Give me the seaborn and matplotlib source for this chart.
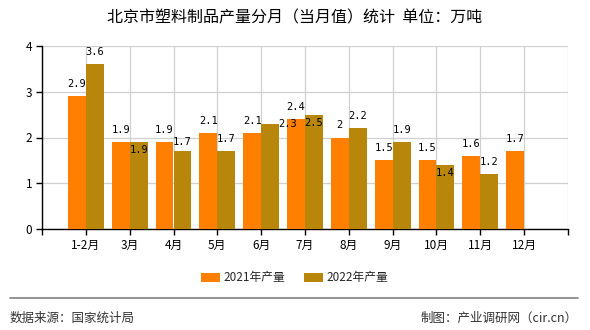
import matplotlib
matplotlib.use("Agg")
import matplotlib.pyplot as plt
import seaborn as sns
import pandas as pd
import numpy as np

# ---- data ----
categories = ["1-2月", "3月", "4月", "5月", "6月", "7月", "8月", "9月", "10月", "11月", "12月"]
series_names = ["2021年产量", "2022年产量"]
values_2021 = [2.9, 1.9, 1.9, 2.1, 2.1, 2.4, 2.0, 1.5, 1.5, 1.6, 1.7]
values_2022 = [3.6, 1.9, 1.7, 1.7, 2.3, 2.5, 2.2, 1.9, 1.4, 1.2, np.nan]
label_2021 = ["2.9", "1.9", "1.9", "2.1", "2.1", "2.4", "2", "1.5", "1.5", "1.6", "1.7"]
label_2022 = ["3.6", "1.9", "1.7", "1.7", "2.3", "2.5", "2.2", "1.9", "1.4", "1.2", ""]
y_ticks = [0, 1, 2, 3, 4]

# label placement (pixel offsets, styling only)
offs_2021 = [(0, 12)] * 11
offs_2022 = [(0, 12), (0, -8), (0, 9), (0, 12), (17, 0), (0, -8),
             (0, 12), (0, 12), (0, -8), (0, 12), (0, 12)]

colors = ["#FF8000", "#B8860B"]

df = pd.DataFrame({
    "month": categories * 2,
    "series": [series_names[0]] * len(categories) + [series_names[1]] * len(categories),
    "value": values_2021 + values_2022,
})

sns.set_theme(style="white")
plt.rcParams["font.family"] = ["Noto Sans CJK SC", "DejaVu Sans"]

fig = plt.figure(figsize=(5.9, 3.3), dpi=100)
ax = fig.add_axes([42 / 590, 1 - 229 / 330, (568 - 42) / 590, (229 - 46) / 330])

sns.barplot(data=df, x="month", y="value", hue="series", order=categories,
            hue_order=series_names, palette=colors, width=0.82, saturation=1,
            linewidth=0, edgecolor="none", ax=ax, legend=True, zorder=3)

ax.set_xlim(-1, 11)
ax.set_ylim(0, 4)
ax.set_xticks(range(-1, 12))
ax.set_xticklabels([""] + categories + [""], fontsize=8.5)
ax.set_yticks(y_ticks)
ax.set_yticklabels([str(t) for t in y_ticks], fontsize=8.5)
ax.set_xlabel("")
ax.set_ylabel("")
ax.grid(True, color="#d0d0d0", linewidth=0.9, zorder=0)
ax.set_axisbelow(True)
for s in ["top", "right"]:
    ax.spines[s].set_visible(False)
for s in ["left", "bottom"]:
    ax.spines[s].set_color("black")
    ax.spines[s].set_linewidth(1.0)
ax.tick_params(axis="both", which="both", direction="out", length=4, width=1,
               color="black", bottom=True, left=True, pad=3, labelcolor="black")

# value labels
mono = "DejaVu Sans Mono"
cont21, cont22 = ax.containers[0], ax.containers[1]
b21 = [b for b in cont21 if not np.isnan(b.get_height())]
b22 = [b for b in cont22 if not np.isnan(b.get_height())]
for bar, txt, off in zip(b21, label_2021, offs_2021):
    ax.annotate(txt, (bar.get_x() + bar.get_width() / 2, bar.get_height()),
                xytext=off, textcoords="offset pixels", ha="center", va="center",
                fontsize=7.5, family=mono, color="black", zorder=5)
for bar, txt, off in zip(b22, [t for t in label_2022 if t], offs_2022):
    ax.annotate(txt, (bar.get_x() + bar.get_width() / 2, bar.get_height()),
                xytext=off, textcoords="offset pixels", ha="center", va="center",
                fontsize=7.5, family=mono, color="black", zorder=5)

# legend
ax.legend_.remove()
handles, labels = ax.get_legend_handles_labels()
fig.legend(handles, labels, loc="center", bbox_to_anchor=(0.5, 1 - 278 / 330),
           ncol=2, frameon=False, fontsize=8.5, handlelength=1.6, handleheight=0.7,
           columnspacing=1.6, handletextpad=0.3)

# title
fig.text(0.5, 1 - 18 / 330, "北京市塑料制品产量分月（当月值）统计  单位：万吨",
         ha="center", va="center", fontsize=11.5, color="black")

# footer
fig.add_artist(plt.Line2D([10 / 590, 578 / 590], [1 - 298 / 330, 1 - 298 / 330],
                          color="#808080", linewidth=1.2))
fig.text(10 / 590, 1 - 318 / 330, "数据来源：国家统计局", ha="left", va="center",
         fontsize=9, color="#333333")
fig.text(578 / 590, 1 - 318 / 330, "制图：产业调研网（cir.cn）", ha="right", va="center",
         fontsize=9, color="#333333")

fig.savefig("out.png", dpi=100)
